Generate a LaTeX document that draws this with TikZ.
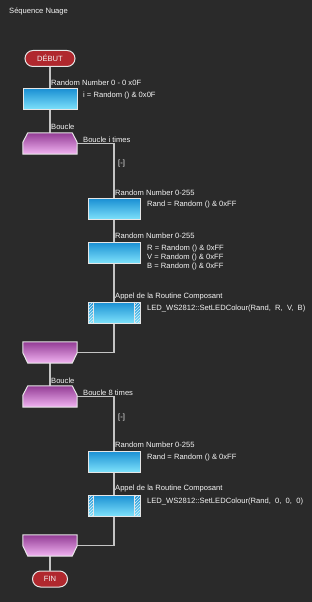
\documentclass[tikz,border=0pt]{standalone}
\usepackage{fontspec}
\setmainfont{Liberation Sans}
\usetikzlibrary{calc,patterns}
\definecolor{bg}{HTML}{2A2A2A}
\definecolor{wire}{HTML}{C4C4C4}
\definecolor{rim}{HTML}{E6E6E6}
\definecolor{btop}{HTML}{1A8FD3}
\definecolor{bbot}{HTML}{7EE2FB}
\definecolor{ptop}{HTML}{933C95}
\definecolor{pbot}{HTML}{F2B4F2}
\definecolor{pill}{HTML}{B0282E}
\definecolor{txt}{HTML}{F4F4F4}
\tikzset{
  proc/.style={rectangle, minimum width=52pt, minimum height=21pt, inner sep=0pt,
    draw=rim, line width=1pt, top color=btop, bottom color=bbot},
  loopnode/.style={rectangle, minimum width=54pt, minimum height=21pt, inner sep=0pt},
  loopshape/.style={draw=rim, line width=1pt, top color=ptop, bottom color=pbot},
  term/.style={rectangle, rounded corners=8pt, minimum height=16pt, inner sep=0pt,
    draw=rim, line width=1pt, fill=pill, text=txt, font=\fontsize{7.6}{8}\selectfont},
  lbl/.style={anchor=west, inner sep=0pt, text=txt, font=\fontsize{7.6}{8.8}\selectfont},
  lblr/.style={anchor=north west, inner sep=0pt, text=txt, align=left, font=\fontsize{7.6}{9.2}\selectfont},
  conn/.style={draw=wire, line width=1.3pt},
  hatch/.style={pattern=north east lines, pattern color=white!85!btop}
}
\begin{document}
\begin{tikzpicture}[x=1pt,y=-1pt]
\useasboundingbox (0,0) rectangle (312,602);
\fill[bg] (0,0) rectangle (312,602);
\node[lbl] (title) at (9,11) {Séquence Nuage};

% nodes
\node[term, minimum width=50pt] (debut) at (50,58.5) {DÉBUT};
\node[proc, minimum width=54pt] (b1) at (50,99) {};
\node[loopnode] (ls1) at (50,143.5) {};
\node[proc] (b2) at (114,209) {};
\node[proc] (b3) at (114,252.5) {};
\node[proc] (b4) at (114,312.5) {};
\node[loopnode] (le1) at (50,352.5) {};
\node[loopnode] (ls2) at (50,396.5) {};
\node[proc] (b5) at (114,461.5) {};
\node[proc] (b6) at (114,505.5) {};
\node[loopnode] (le2) at (50,545.5) {};
\node[term, minimum width=35pt] (fin) at (50,579) {FIN};

% connectors
\draw[conn] (debut.south) -- (b1.north);
\draw[conn] (b1.south) -- (ls1.north);
\draw[conn] (ls1.east) -| (b2.north);
\draw[conn] (b2.south) -- (b3.north);
\draw[conn] (b3.south) -- (b4.north);
\draw[conn] (b4.south) |- (le1.east);
\draw[conn] (le1.south) -- (ls2.north);
\draw[conn] (ls2.east) -| (b5.north);
\draw[conn] (b5.south) -- (b6.north);
\draw[conn] (b6.south) |- (le2.east);
\draw[conn] (le2.south) -- (fin.north);

% loop start shapes
\foreach \n in {ls1,ls2}{
  \shade[loopshape] ($(\n.north west)+(5,0)$) -- ($(\n.north east)+(-5,0)$)
    -- ($(\n.north east)+(0,9.5)$) -- (\n.south east) -- (\n.south west)
    -- ($(\n.north west)+(0,9.5)$) -- cycle;
}
% loop end shapes
\foreach \n in {le1,le2}{
  \shade[loopshape] (\n.north west) -- (\n.north east)
    -- ($(\n.south east)+(0,-10.5)$) -- ($(\n.south east)+(-5,0)$)
    -- ($(\n.south west)+(5,0)$) -- ($(\n.south west)+(0,-10.5)$) -- cycle;
}
% hatched sides on call boxes
\foreach \n in {b4,b6}{
  \fill[hatch] ($(\n.north west)+(0.5,0.5)$) rectangle ($(\n.south west)+(6,-0.5)$);
  \fill[hatch] ($(\n.north east)+(-6,0.5)$) rectangle ($(\n.south east)+(-0.5,-0.5)$);
  \draw[rim, line width=0.8pt] ($(\n.north west)+(6,0)$) -- ($(\n.south west)+(6,0)$);
  \draw[rim, line width=0.8pt] ($(\n.north east)+(-6,0)$) -- ($(\n.south east)+(-6,0)$);
}

% labels
\node[lbl] (l1) at (51,83) {Random Number 0 - 0 x0F};
\node[lbl] (t1) at (83,96) {i = Random () \& 0x0F};
\node[lbl] (l2) at (51,127) {Boucle};
\node[lbl] (l3) at (83,140) {Boucle i times};
\node[lbl] (c1) at (118,164) {[-]};
\node[lbl] (l4) at (115,193) {Random Number 0-255};
\node[lbl] (t2) at (147,205) {Rand = Random () \& 0xFF};
\node[lbl] (l5) at (115,236) {Random Number 0-255};
\node[lblr] (t3) at (147,244.5) {R = Random () \& 0xFF\\V = Random () \& 0xFF\\B = Random () \& 0xFF};
\node[lbl] (l6) at (115,297) {Appel de la Routine Composant};
\node[lbl] (t4) at (147,308.5) {LED\_WS2812::SetLEDColour(Rand,\ \ R,\ \ V,\ \ B)};
\node[lbl] (l7) at (51,380.5) {Boucle};
\node[lbl] (l8) at (83,392.5) {Boucle 8 times};
\node[lbl] (c2) at (118,418) {[-]};
\node[lbl] (l9) at (115,445) {Random Number 0-255};
\node[lbl] (t5) at (147,458) {Rand = Random () \& 0xFF};
\node[lbl] (l10) at (115,489) {Appel de la Routine Composant};
\node[lbl] (t6) at (147,502) {LED\_WS2812::SetLEDColour(Rand,\ \ 0,\ \ 0,\ \ 0)};
\end{tikzpicture}
\end{document}
